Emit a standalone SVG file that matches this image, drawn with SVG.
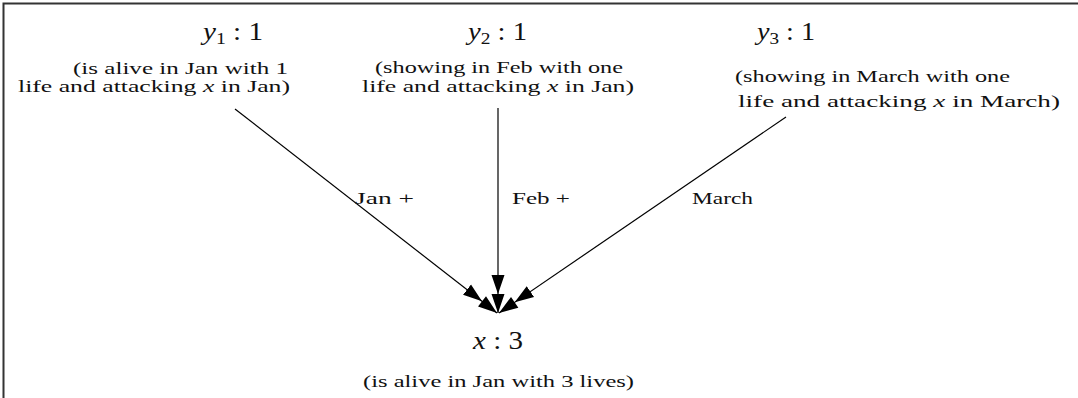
<svg xmlns="http://www.w3.org/2000/svg" width="1078" height="398" viewBox="0 0 1078 398">
<style>
.t{font-family:"Liberation Serif","DejaVu Serif",serif;font-size:17px;fill:#111}
.m{font-family:"Liberation Serif","DejaVu Serif",serif;font-size:25px;fill:#111}
.i{font-style:italic}
.e{stroke:#000;stroke-width:1.2;fill:none}
</style>
<defs>
<marker id="dbl" markerUnits="userSpaceOnUse" markerWidth="44" markerHeight="18" viewBox="0 -9 44 18" refX="38" refY="0" orient="auto">
<path d="M0,-6.5 L19,0 L0,6.5 Z M19,-6.5 L38,0 L19,6.5 Z" fill="#000"/>
</marker>
</defs>
<path d="M3.5,398 V3.5 H1078" stroke="#333" stroke-width="2" fill="none"/>
<g id="connectors">
<path class="e" d="M235,109 L497,313" marker-end="url(#dbl)"/>
<path class="e" d="M498,108 L498,313" marker-end="url(#dbl)"/>
<path class="e" d="M786,117 L499,313" marker-end="url(#dbl)"/>
<text class="t" x="355" y="204" textLength="59" lengthAdjust="spacingAndGlyphs">Jan +</text>
<text class="t" x="512" y="204" textLength="58" lengthAdjust="spacingAndGlyphs">Feb +</text>
<text class="t" x="692" y="204" textLength="61" lengthAdjust="spacingAndGlyphs">March</text>
</g>
<g id="y1">
<text class="m" x="203" y="40" textLength="60" lengthAdjust="spacingAndGlyphs"><tspan class="i">y</tspan><tspan font-size="17" dy="4">1</tspan><tspan dy="-4"> : 1</tspan></text>
<text class="t" x="73" y="74" textLength="215" lengthAdjust="spacingAndGlyphs">(is alive in Jan with 1</text>
<text class="t" x="18" y="92" textLength="272" lengthAdjust="spacingAndGlyphs">life and attacking <tspan class="i">x</tspan> in Jan)</text>
</g>
<g id="y2">
<text class="m" x="468" y="40" textLength="59" lengthAdjust="spacingAndGlyphs"><tspan class="i">y</tspan><tspan font-size="17" dy="4">2</tspan><tspan dy="-4"> : 1</tspan></text>
<text class="t" x="375" y="73" textLength="248" lengthAdjust="spacingAndGlyphs">(showing in Feb with one</text>
<text class="t" x="362" y="92" textLength="272" lengthAdjust="spacingAndGlyphs">life and attacking <tspan class="i">x</tspan> in Jan)</text>
</g>
<g id="y3">
<text class="m" x="757" y="40" textLength="58" lengthAdjust="spacingAndGlyphs"><tspan class="i">y</tspan><tspan font-size="17" dy="4">3</tspan><tspan dy="-4"> : 1</tspan></text>
<text class="t" x="735" y="82" textLength="275" lengthAdjust="spacingAndGlyphs">(showing in March with one</text>
<text class="t" x="738" y="107" textLength="322" lengthAdjust="spacingAndGlyphs">life and attacking <tspan class="i">x</tspan> in March)</text>
</g>
<g id="x">
<text class="m" x="473" y="349" textLength="50" lengthAdjust="spacingAndGlyphs"><tspan class="i">x</tspan> : 3</text>
<text class="t" x="363" y="387" textLength="271" lengthAdjust="spacingAndGlyphs">(is alive in Jan with 3 lives)</text>
</g>
</svg>
